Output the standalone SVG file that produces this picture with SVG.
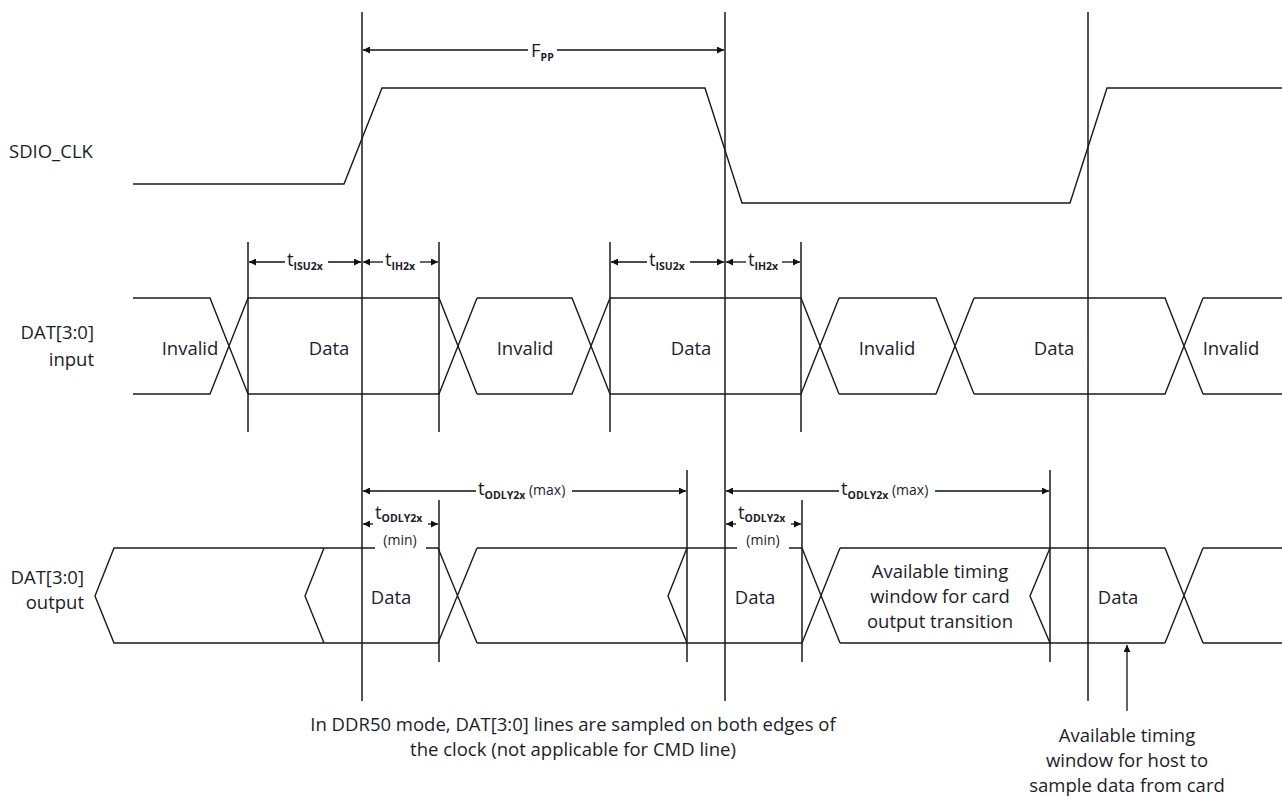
<svg xmlns="http://www.w3.org/2000/svg" width="1282" height="796" viewBox="0 0 1282 796">
<style>
.w{fill:none;stroke:#1a1a1a;stroke-width:1.4;stroke-linejoin:miter}
.v{stroke:#1a1a1a;stroke-width:1.5}
.d{stroke:#111;stroke-width:1.3;fill:none}
text{font-family:"Open Sans",Lato,"Liberation Sans",sans-serif;font-size:18.5px;fill:#1c1c2c}
.m{text-anchor:middle}
.e{text-anchor:end}
.s{font-size:10.5px;font-weight:bold}
.p{font-size:14px}
</style>
<defs>
<marker id="arr" viewBox="0 0 10 10" refX="10" refY="5" markerWidth="9" markerHeight="7" markerUnits="userSpaceOnUse" orient="auto-start-reverse">
<path d="M0,0 L10,5 L0,10 z" fill="#111"/>
</marker>
</defs>
<rect width="1282" height="796" fill="#fff"/>

<g id="sdio_clk">
<polyline class="w" points="133,184 344,184 382,88 705,88 742,203 1070,203 1107,88 1282,88"/>
<text x="9" y="158">SDIO_CLK</text>
</g>

<g id="dat_input">
<text class="e" x="94" y="339">DAT[3:0]</text>
<text class="e" x="94" y="366">input</text>
<path class="w" d="M133,298 H210 L248,394 M133,394 H210 L248,298"/>
<path class="w" d="M248,298 H439 L477,394 M248,394 H439 L477,298"/>
<path class="w" d="M477,298 H572 L610,394 M477,394 H572 L610,298"/>
<path class="w" d="M610,298 H801 L839,394 M610,394 H801 L839,298"/>
<path class="w" d="M839,298 H936 L974,394 M839,394 H936 L974,298"/>
<path class="w" d="M974,298 H1165 L1203,394 M974,394 H1165 L1203,298"/>
<path class="w" d="M1203,298 H1282 M1203,394 H1282"/>
<text class="m" x="190" y="355">Invalid</text>
<text class="m" x="329" y="355">Data</text>
<text class="m" x="525" y="355">Invalid</text>
<text class="m" x="691" y="355">Data</text>
<text class="m" x="887" y="355">Invalid</text>
<text class="m" x="1054" y="355">Data</text>
<text class="m" x="1231" y="355">Invalid</text>
</g>

<g id="dat_output">
<text class="e" x="84" y="584">DAT[3:0]</text>
<text class="e" x="84" y="609">output</text>
<path class="w" d="M375,548 H114 L95,596 L114,643 H438 M426,548 H438 M324,548 L305,596 L324,643"/>
<path class="w" d="M438,548 L477,643 M438,643 L477,548"/>
<path class="w" d="M737,548 H477 M477,643 H802 M789,548 H802 M687,548 L668,596 L687,643"/>
<path class="w" d="M802,548 L840,643 M802,643 L840,548"/>
<path class="w" d="M840,548 H1165 M840,643 H1165 M1050,548 L1030,596 L1050,643"/>
<path class="w" d="M1165,548 L1203,643 M1165,643 L1203,548"/>
<path class="w" d="M1203,548 H1282 M1203,643 H1282"/>
<text class="m" x="391" y="604">Data</text>
<text class="m" x="755" y="604">Data</text>
<text class="m" x="1118" y="604">Data</text>
<text class="m" x="940" y="578">Available timing</text>
<text class="m" x="940" y="603">window for card</text>
<text class="m" x="940" y="628">output transition</text>
</g>

<g id="connectors">
<line class="v" x1="362" y1="12" x2="362" y2="701"/>
<line class="v" x1="725" y1="12" x2="725" y2="701"/>
<line class="v" x1="1088" y1="12" x2="1088" y2="701"/>
<line class="v" x1="248" y1="242" x2="248" y2="432"/>
<line class="v" x1="439" y1="242" x2="439" y2="432"/>
<line class="v" x1="610" y1="242" x2="610" y2="432"/>
<line class="v" x1="801" y1="242" x2="801" y2="432"/>
<line class="v" x1="439" y1="500" x2="439" y2="662"/>
<line class="v" x1="687" y1="470" x2="687" y2="662"/>
<line class="v" x1="802" y1="500" x2="802" y2="662"/>
<line class="v" x1="1050" y1="470" x2="1050" y2="662"/>

<line class="d" x1="528" y1="50" x2="363" y2="50" marker-end="url(#arr)"/>
<line class="d" x1="557" y1="50" x2="724" y2="50" marker-end="url(#arr)"/>

<line class="d" x1="285" y1="262" x2="249" y2="262" marker-end="url(#arr)"/>
<line class="d" x1="328" y1="262" x2="361" y2="262" marker-end="url(#arr)"/>
<line class="d" x1="383" y1="262" x2="363" y2="262" marker-end="url(#arr)"/>
<line class="d" x1="420" y1="262" x2="438" y2="262" marker-end="url(#arr)"/>
<line class="d" x1="647" y1="262" x2="611" y2="262" marker-end="url(#arr)"/>
<line class="d" x1="690" y1="262" x2="724" y2="262" marker-end="url(#arr)"/>
<line class="d" x1="746" y1="262" x2="726" y2="262" marker-end="url(#arr)"/>
<line class="d" x1="782" y1="262" x2="800" y2="262" marker-end="url(#arr)"/>

<line class="d" x1="476" y1="491" x2="363" y2="491" marker-end="url(#arr)"/>
<line class="d" x1="572" y1="491" x2="686" y2="491" marker-end="url(#arr)"/>
<line class="d" x1="839" y1="491" x2="726" y2="491" marker-end="url(#arr)"/>
<line class="d" x1="935" y1="491" x2="1049" y2="491" marker-end="url(#arr)"/>

<line class="d" x1="373" y1="524" x2="363" y2="524" marker-end="url(#arr)"/>
<line class="d" x1="428" y1="524" x2="438" y2="524" marker-end="url(#arr)"/>
<line class="d" x1="736" y1="524" x2="726" y2="524" marker-end="url(#arr)"/>
<line class="d" x1="791" y1="524" x2="801" y2="524" marker-end="url(#arr)"/>

<line class="d" x1="1127" y1="711" x2="1127" y2="645" marker-end="url(#arr)"/>
</g>

<g id="labels">
<text x="531" y="57">F<tspan class="s" dy="4">PP</tspan></text>
<text x="287" y="266">t<tspan class="s" dy="4">ISU2x</tspan></text>
<text x="385" y="266">t<tspan class="s" dy="4">IH2x</tspan></text>
<text x="649" y="266">t<tspan class="s" dy="4">ISU2x</tspan></text>
<text x="748" y="266">t<tspan class="s" dy="4">IH2x</tspan></text>
<text x="478" y="495">t<tspan class="s" dy="4">ODLY2x</tspan><tspan class="p" dy="-4"> (max)</tspan></text>
<text x="841" y="495">t<tspan class="s" dy="4">ODLY2x</tspan><tspan class="p" dy="-4"> (max)</tspan></text>
<text x="375" y="519">t<tspan class="s" dy="3">ODLY2x</tspan></text>
<text class="m p" x="400" y="545">(min)</text>
<text x="738" y="519">t<tspan class="s" dy="3">ODLY2x</tspan></text>
<text class="m p" x="763" y="545">(min)</text>
<text class="m" x="573" y="731">In DDR50 mode, DAT[3:0] lines are sampled on both edges of</text>
<text class="m" x="573" y="756">the clock (not applicable for CMD line)</text>
<text class="m" x="1127" y="742">Available timing</text>
<text class="m" x="1127" y="767">window for host to</text>
<text class="m" x="1127" y="792">sample data from card</text>
</g>
</svg>
